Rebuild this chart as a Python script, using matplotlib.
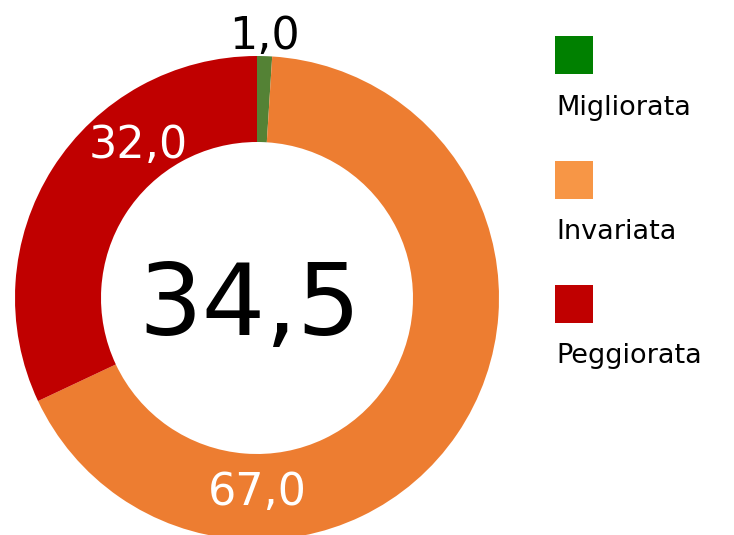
import matplotlib
matplotlib.use("Agg")
import matplotlib.pyplot as plt
from matplotlib.patches import Rectangle

plt.rcParams['font.family'] = ['DejaVu Sans']

# dati
categorie = ['Migliorata', 'Invariata', 'Peggiorata']
valori = [1.0, 67.0, 32.0]
colori_fette = ['#548235', '#ED7D31', '#C00000']
colori_legenda = ['#008000', '#F79646', '#C00000']
valore_centrale = 34.5

W, H = 734, 535
fig = plt.figure(figsize=(W / 100, H / 100), dpi=100)
ax = fig.add_axes([0, 0, 1, 1])

# centro e raggio in pixel (y verso l'alto)
cx, cy = 257, H - 298
R = 242
spessore = 86

ax.pie(valori, colors=colori_fette, startangle=90, counterclock=False,
       center=(cx, cy), radius=R,
       wedgeprops=dict(width=spessore, linewidth=0))
ax.set_xlim(0, W)
ax.set_ylim(0, H)
ax.set_aspect('equal')
ax.axis('off')

def fmt(v):
    return f"{v:.1f}".replace('.', ',')

# etichette dei dati (posizioni come nel grafico originale)
pos_etichette = [(264, H - 49, 'black'), (257, H - 505, 'white'), (138, H - 158, 'white')]
for v, (x, y, c) in zip(valori, pos_etichette):
    ax.text(x, y, fmt(v), ha='center', va='baseline', fontsize=32, color=c)

ax.text(cx - 7, H - 335, fmt(valore_centrale), ha='center', va='baseline',
        fontsize=72, color='black')

# legenda
for i, (nome, col) in enumerate(zip(categorie, colori_legenda)):
    top = 36 + i * 124.5
    ax.add_patch(Rectangle((555, H - top - 38), 38, 38, color=col, lw=0))
    ax.text(556, H - (115 + i * 124), nome, ha='left', va='baseline',
            fontsize=19.5, color='black')

fig.savefig('out.png', dpi=100)
